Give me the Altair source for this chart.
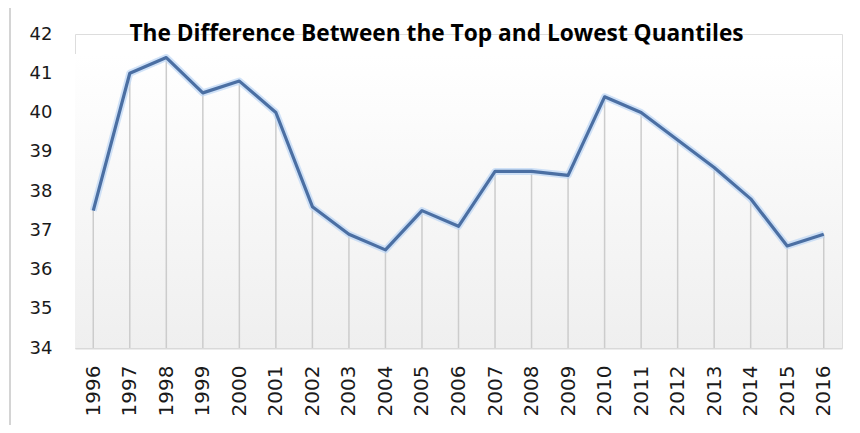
import altair as alt
import pandas as pd

years = [str(y) for y in range(1996, 2017)]
values = [37.5, 41.0, 41.4, 40.5, 40.8, 40.0, 37.6, 36.9, 36.5, 37.5, 37.1,
          38.5, 38.5, 38.4, 40.4, 40.0, 39.3, 38.6, 37.8, 36.6, 36.9]
y_ticks = [34, 35, 36, 37, 38, 39, 40, 41, 42]
title_text = "The Difference Between the Top and Lowest Quantiles"

df = pd.DataFrame({"year": years, "value": values, "base": [34] * len(years)})
one = pd.DataFrame({"t": [title_text]})

W, H = 767, 314
FONT = "DejaVu Sans"
TFONT = "Open Sans"

x_scale = alt.Scale(type="point", padding=0.5)
x_axis = alt.Axis(labelAngle=-90, labelFontSize=20, labelFont=FONT,
                  labelColor="#1a1a1a", labelPadding=17, ticks=False,
                  domain=True, domainColor="#d9d9d9", domainWidth=2,
                  labelBaseline="middle", labelAlign="right",
                  labelOverlap=False, grid=False)
x_enc = alt.X("year:O", scale=x_scale, title=None, axis=x_axis)
y_scale = alt.Scale(domain=[34, 42], nice=False, zero=False)
y_axis = alt.Axis(values=y_ticks, labelFontSize=18, labelFont=FONT,
                  labelColor="#1a1a1a", labelPadding=23, ticks=False,
                  domain=False, grid=False, labelOverlap=False)
y_enc = alt.Y("value:Q", scale=y_scale, title=None, axis=y_axis)

bg = alt.Chart(one).mark_rect(
    color=alt.Gradient(gradient="linear", x1=0, y1=0, x2=0, y2=1,
                       stops=[alt.GradientStop(color="#ffffff", offset=0),
                              alt.GradientStop(color="#efefef", offset=1)])
).encode(x=alt.value(0), x2=alt.value(W), y=alt.value(20), y2=alt.value(H))

border = alt.Chart(one).mark_rect(fill=None, stroke="#d4d4d4", strokeWidth=2).encode(
    x=alt.value(-65), x2=alt.value(W + 80), y=alt.value(-28), y2=alt.value(H + 200))

drops = alt.Chart(df).mark_rule(color="#cccccc", strokeWidth=1.5).encode(
    x=x_enc, y=y_enc, y2="base:Q")

glow = alt.Chart(df).mark_line(color="#bcd6f5", strokeWidth=7, opacity=0.7,
                               strokeJoin="round").encode(x=x_enc, y=y_enc)

line = alt.Chart(df).mark_line(color="#4b6fa3", strokeWidth=3.2,
                               strokeJoin="round").encode(x=x_enc, y=y_enc)

title = alt.Chart(one).mark_text(font=TFONT, fontSize=22.7, fontWeight="bold",
                                 color="#000000", baseline="middle",
                                 align="center").encode(
    text="t:N", x=alt.value(W / 2 - 22), y=alt.value(0))

chart = alt.layer(border, bg, drops, glow, line, title).properties(
    width=W, height=H,
    autosize=alt.AutoSizeParams(type="none"),
    padding={"left": 67, "top": 26, "right": 10, "bottom": 77},
).configure_view(stroke=None).configure(background="white")

chart.save("out.html", embed_options={"renderer": "svg", "actions": False})
